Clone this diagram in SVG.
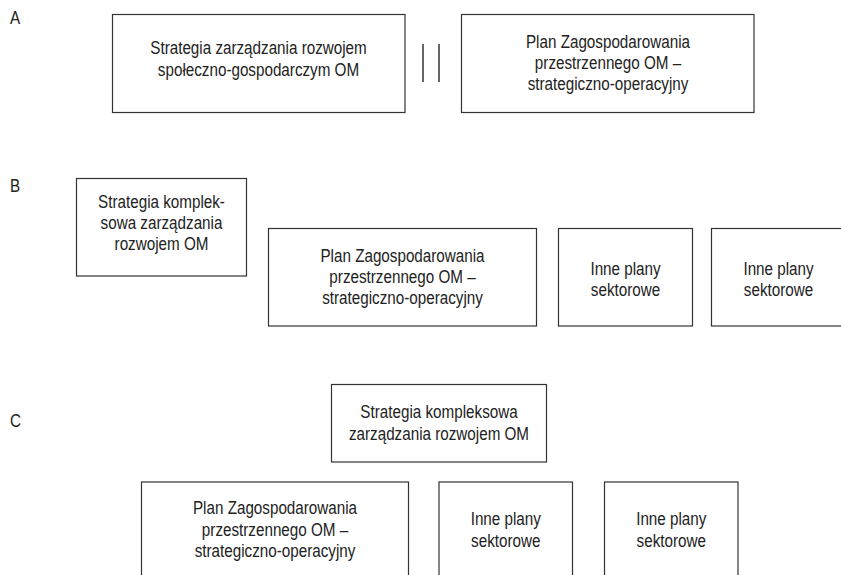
<svg xmlns="http://www.w3.org/2000/svg" width="841" height="575" viewBox="0 0 841 575">
<style>
.box{fill:#fff;stroke:#333;stroke-width:1.2}
.t{font-family:"Liberation Sans",Arial,sans-serif;font-size:17.5px;fill:#222;text-anchor:middle}
.lbl{font-family:"Liberation Sans",Arial,sans-serif;font-size:17.5px;fill:#222}
.bar{stroke:#333;stroke-width:1.5}
</style>
<rect width="841" height="575" fill="#fff"/>
<g id="labels">
<text class="lbl" transform="translate(10 24) scale(0.87 1)">A</text>
<text class="lbl" transform="translate(10 192) scale(0.87 1)">B</text>
<text class="lbl" transform="translate(10 427) scale(0.87 1)">C</text>
</g>
<g id="connectors">
<line class="bar" x1="423" y1="44" x2="423" y2="82"/>
<line class="bar" x1="439" y1="44" x2="439" y2="82"/>
</g>
<g id="a1">
<rect class="box" x="112.5" y="14.5" width="292.5" height="98"/>
<text class="t" transform="translate(258.5 54) scale(0.87 1)">Strategia zarządzania rozwojem</text>
<text class="t" transform="translate(258.5 76) scale(0.87 1)">społeczno-gospodarczym OM</text>
</g>
<g id="a2">
<rect class="box" x="461.5" y="14.5" width="292.5" height="98"/>
<text class="t" transform="translate(608 47.5) scale(0.87 1)">Plan Zagospodarowania</text>
<text class="t" transform="translate(608 68.5) scale(0.87 1)">przestrzennego OM –</text>
<text class="t" transform="translate(608 89.5) scale(0.87 1)">strategiczno-operacyjny</text>
</g>
<g id="b1">
<rect class="box" x="76.5" y="178.5" width="170" height="97.5"/>
<text class="t" transform="translate(161.5 208) scale(0.87 1)">Strategia komplek-</text>
<text class="t" transform="translate(161.5 229) scale(0.87 1)">sowa zarządzania</text>
<text class="t" transform="translate(161.5 250) scale(0.87 1)">rozwojem OM</text>
</g>
<g id="b2">
<rect class="box" x="268.5" y="228.5" width="268" height="97.5"/>
<text class="t" transform="translate(402.5 262) scale(0.87 1)">Plan Zagospodarowania</text>
<text class="t" transform="translate(402.5 283) scale(0.87 1)">przestrzennego OM –</text>
<text class="t" transform="translate(402.5 304) scale(0.87 1)">strategiczno-operacyjny</text>
</g>
<g id="b3">
<rect class="box" x="558.5" y="228.5" width="134" height="97.5"/>
<text class="t" transform="translate(625.5 275) scale(0.87 1)">Inne plany</text>
<text class="t" transform="translate(625.5 296) scale(0.87 1)">sektorowe</text>
</g>
<g id="b4">
<rect class="box" x="711.5" y="228.5" width="140" height="97.5"/>
<text class="t" transform="translate(778.5 275) scale(0.87 1)">Inne plany</text>
<text class="t" transform="translate(778.5 296) scale(0.87 1)">sektorowe</text>
</g>
<g id="c1">
<rect class="box" x="331.5" y="384.5" width="215" height="77.5"/>
<text class="t" transform="translate(439 418) scale(0.87 1)">Strategia kompleksowa</text>
<text class="t" transform="translate(439 439.5) scale(0.87 1)">zarządzania rozwojem OM</text>
</g>
<g id="c2">
<rect class="box" x="141.5" y="482" width="267" height="110"/>
<text class="t" transform="translate(275 514) scale(0.87 1)">Plan Zagospodarowania</text>
<text class="t" transform="translate(275 535.5) scale(0.87 1)">przestrzennego OM –</text>
<text class="t" transform="translate(275 557) scale(0.87 1)">strategiczno-operacyjny</text>
</g>
<g id="c3">
<rect class="box" x="439" y="482" width="133.5" height="110"/>
<text class="t" transform="translate(505.75 525) scale(0.87 1)">Inne plany</text>
<text class="t" transform="translate(505.75 546.5) scale(0.87 1)">sektorowe</text>
</g>
<g id="c4">
<rect class="box" x="604.5" y="482" width="133.5" height="110"/>
<text class="t" transform="translate(671.25 525) scale(0.87 1)">Inne plany</text>
<text class="t" transform="translate(671.25 546.5) scale(0.87 1)">sektorowe</text>
</g>
</svg>
